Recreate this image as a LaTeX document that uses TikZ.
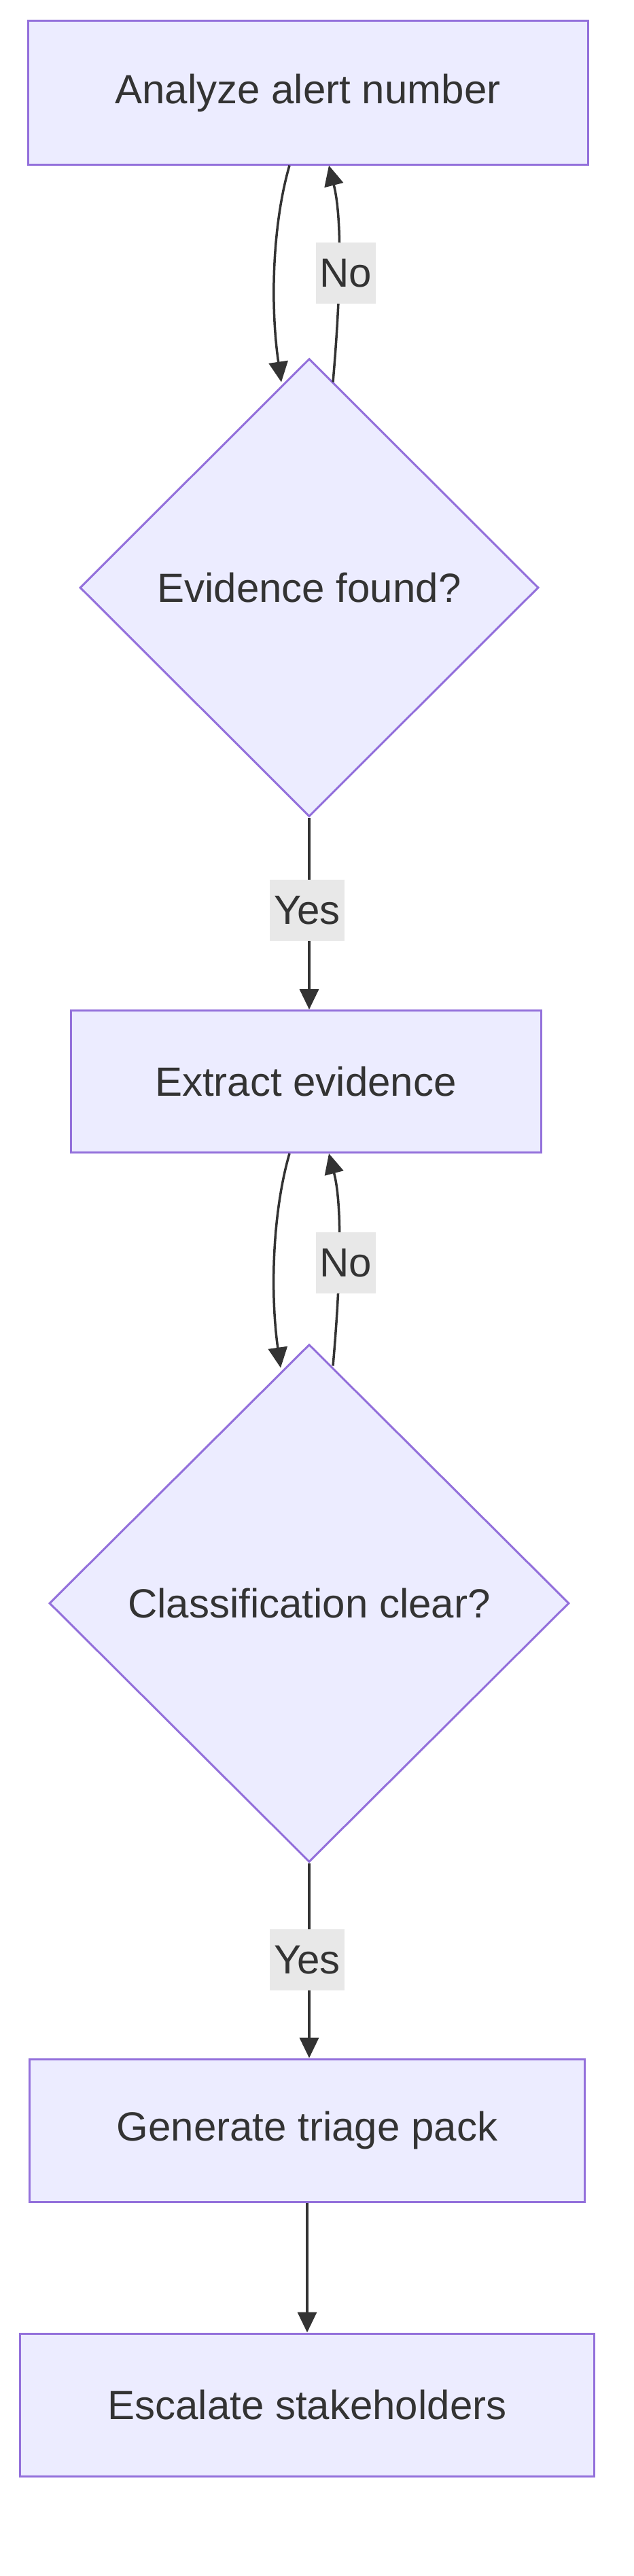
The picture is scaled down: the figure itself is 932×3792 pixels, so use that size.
\documentclass[tikz,border=0pt]{standalone}
\usepackage{fontspec}
\setmainfont{Liberation Sans}
\usetikzlibrary{shapes.geometric,arrows.meta,calc}
\definecolor{nodefill}{HTML}{ECECFF}
\definecolor{nodeline}{HTML}{9370DB}
\definecolor{txt}{HTML}{333333}
\definecolor{lblbg}{HTML}{E8E8E8}
\begin{document}
\begin{tikzpicture}[x=1pt,y=-1pt,
  every node/.style={font=\fontsize{60}{72}\selectfont, text=txt},
  procbox/.style={draw=nodeline, fill=nodefill, line width=3pt, rectangle, inner sep=0pt},
  decbox/.style={draw=nodeline, fill=nodefill, line width=3pt, diamond, inner sep=0pt},
  edge/.style={draw=txt, line width=3.5pt, -{Triangle[length=30pt,width=28pt]}},
  lbl/.style={fill=lblbg, inner sep=6pt, minimum height=90pt}]
\useasboundingbox (0,0) rectangle (932,3792);
\node[procbox, minimum width=824pt, minimum height=211pt] (a) at (453,136.5) {Analyze alert number};
\node[decbox, minimum width=675pt, minimum height=674pt] (b) at (455,865) {Evidence found?};
\node[procbox, minimum width=692pt, minimum height=209pt] (c) at (450,1592) {Extract evidence};
\node[decbox, minimum width=765pt, minimum height=762pt] (d) at (455,2360) {Classification clear?};
\node[procbox, minimum width=817pt, minimum height=210pt] (e) at (452,3136) {Generate triage pack};
\node[procbox, minimum width=845pt, minimum height=210pt] (f) at (452,3540) {Escalate stakeholders};
% loop 1
\draw[edge] ($(a.south)+(-27,0)$) .. controls ($(a.south)+(-53,90)$) and ($(a.south)+(-55,210)$) .. ($(b.north)+(-41,36)$);
\draw[edge] ($(b.north)+(35,36)$) .. controls ($(b.north)+(45,-80)$) and ($(b.north)+(50,-200)$) .. ($(a.south)+(31,0)$);
\node[lbl] (n1) at (509,402) {No};
% loop 2
\draw[edge] ($(c.south)+(-24,0)$) .. controls ($(c.south)+(-50,90)$) and ($(c.south)+(-52,210)$) .. ($(d.north)+(-42,36)$);
\draw[edge] ($(d.north)+(35,33)$) .. controls ($(d.north)+(45,-80)$) and ($(d.north)+(50,-200)$) .. ($(c.south)+(34,0)$);
\node[lbl] (n2) at (509,1859) {No};
% yes edges
\draw[edge] (b.south) -- (b.south |- c.north);
\node[lbl] (y1) at (452,1340) {Yes};
\draw[edge] (d.south) -- (d.south |- e.north);
\node[lbl] (y2) at (452,2885) {Yes};
\draw[edge] (e.south) -- (e.south |- f.north);
\end{tikzpicture}
\end{document}
